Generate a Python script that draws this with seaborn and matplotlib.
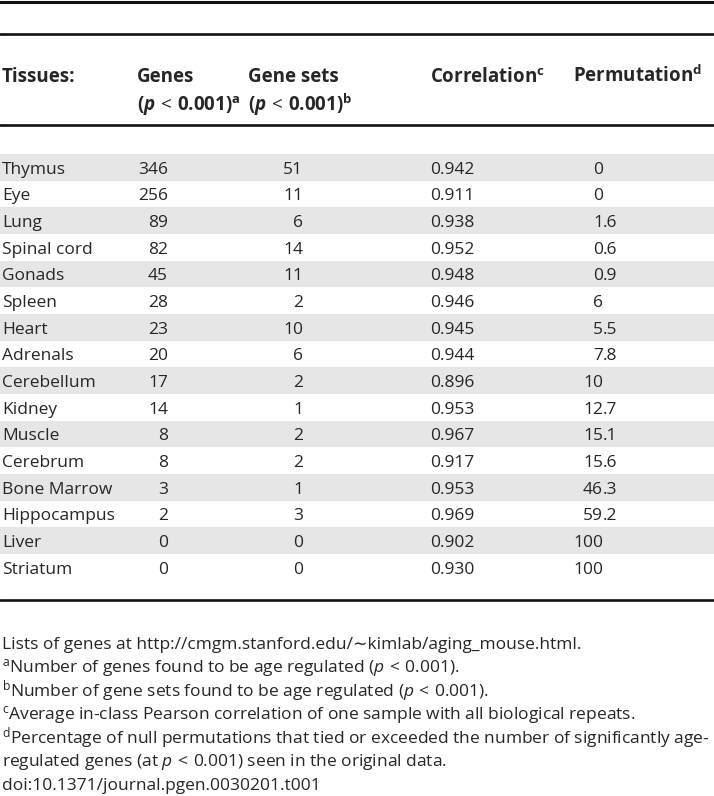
import matplotlib
matplotlib.use("Agg")
import matplotlib.pyplot as plt
import seaborn as sns

# table values
tissues = ["Thymus", "Eye", "Lung", "Spinal cord", "Gonads", "Spleen", "Heart",
           "Adrenals", "Cerebellum", "Kidney", "Muscle", "Cerebrum",
           "Bone Marrow", "Hippocampus", "Liver", "Striatum"]
genes = [346, 256, 89, 82, 45, 28, 23, 20, 17, 14, 8, 8, 3, 2, 0, 0]
gene_sets = [51, 11, 6, 14, 11, 2, 10, 6, 2, 1, 2, 2, 1, 3, 0, 0]
correlation = [0.942, 0.911, 0.938, 0.952, 0.948, 0.946, 0.945, 0.944,
               0.896, 0.953, 0.967, 0.917, 0.953, 0.969, 0.902, 0.930]
permutation = [0, 0, 1.6, 0.6, 0.9, 6, 5.5, 7.8, 10, 12.7, 15.1, 15.6,
               46.3, 59.2, 100, 100]

footnotes = [
    "Lists of genes at http://cmgm.stanford.edu/\u223ckimlab/aging_mouse.html.",
    r"$^{\mathrm{a}}$Number of genes found to be age regulated ($p\,<\,$0.001).",
    r"$^{\mathrm{b}}$Number of gene sets found to be age regulated ($p\,<\,$0.001).",
    r"$^{\mathrm{c}}$Average in-class Pearson correlation of one sample with all biological repeats.",
    r"$^{\mathrm{d}}$Percentage of null permutations that tied or exceeded the number of significantly age-",
    r"regulated genes (at $p\,<\,$0.001) seen in the original data.",
    "doi:10.1371/journal.pgen.0030201.t001",
]

sns.set_theme(style="white")
plt.rcParams["font.family"] = ["Open Sans", "DejaVu Sans"]
plt.rcParams["mathtext.fontset"] = "custom"
plt.rcParams["mathtext.rm"] = "Open Sans"
plt.rcParams["mathtext.it"] = "Open Sans:italic"
plt.rcParams["mathtext.bf"] = "Open Sans:bold"
plt.rcParams["mathtext.bfit"] = "Open Sans:italic:bold"

FS = 12.5
FS_HEAD = 13.5
shade = "#e6e6e6"
rule = "#111111"

fig = plt.figure(figsize=(7.14, 7.96), dpi=100)
ax = fig.add_axes([0, 0, 1, 1])
ax.set_xlim(0, 714)
ax.set_ylim(796, 0)
ax.axis("off")

# rules
for y, lw in [(1.5, 2.2), (34, 1.9), (125, 1.9), (600, 1.9)]:
    ax.axhline(y, color=rule, lw=lw)

# header
hb1, hb2 = 82, 111
hd = dict(fontsize=FS_HEAD, fontweight="bold", va="baseline", ha="left")
ax.text(2, hb1, "Tissues:", **hd)
ax.text(137, hb1, "Genes", **hd)
ax.text(137, hb2, r"($\mathbfit{p}\,<\,$0.001)$^{\mathbf{a}}$", **hd)
ax.text(248, hb1, "Gene sets", **hd)
ax.text(248, hb2, r"($\mathbfit{p}\,<\,$0.001)$^{\mathbf{b}}$", **hd)
ax.text(430, hb1, r"Correlation$^{\mathbf{c}}$", **hd)
ax.text(573, hb1, r"Permutation$^{\mathbf{d}}$", **hd)

# body rows
top, step = 154, 26.67
for i, name in enumerate(tissues):
    y0 = top + i * step
    if i % 2 == 0:
        ax.axhspan(y0, y0 + step, color=shade, lw=0, zorder=0)
    yb = y0 + 19.5
    kw = dict(fontsize=FS, va="baseline")
    ax.text(2, yb, name, ha="left", **kw)
    ax.text(168, yb, str(genes[i]), ha="right", **kw)
    ax.text(303, yb, str(gene_sets[i]), ha="right", **kw)
    ax.text(430, yb, f"{correlation[i]:.3f}", ha="left", **kw)
    p = f"{permutation[i]:g}"
    whole, _, frac = p.partition(".")
    ax.text(603, yb, whole, ha="right", **kw)
    if frac:
        ax.text(603, yb, "." + frac, ha="left", **kw)

# footnotes
for j, line in enumerate(footnotes):
    ax.text(2, 649 + j * 23.5, line, fontsize=FS, va="baseline", ha="left")

fig.savefig("out.png", dpi=100)
